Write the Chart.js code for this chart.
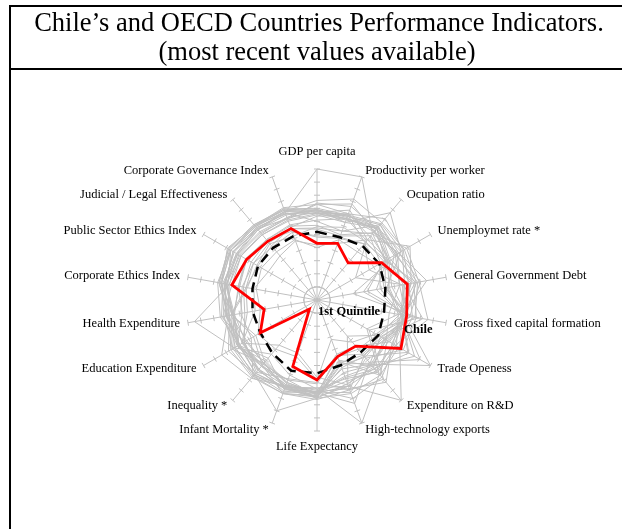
<!DOCTYPE html>
<html><head><meta charset="utf-8">
<script src="https://cdn.jsdelivr.net/npm/chart.js@4.4.1/dist/chart.umd.min.js"></script>
<style>
html,body{margin:0;padding:0;background:#fff;width:622px;height:529px;overflow:hidden;}
#vline{position:absolute;left:9px;top:5px;width:2px;height:600px;background:#000;}
#hline1{position:absolute;left:9px;top:5px;width:700px;height:2px;background:#000;}
#hline2{position:absolute;left:9px;top:68px;width:700px;height:2px;background:#000;}
#c{position:absolute;left:0;top:0;}
</style></head>
<body>
<div id="vline"></div><div id="hline1"></div><div id="hline2"></div>
<canvas id="c" width="622" height="529"></canvas>
<script>
const titleLines = ["Chile’s and OECD Countries Performance Indicators.", "(most recent values available)"];
const indicators = ["GDP per capita","Productivity per worker","Ocupation ratio","Unemploymet rate *","General Government Debt","Gross fixed capital formation","Trade Openess","Expenditure on R&D","High-technology exports","Life Expectancy","Infant Mortality *","Inequality *","Education Expenditure","Health Expenditure","Corporate Ethics Index","Public Sector Ethics Index","Judicial / Legal Effectiveness","Corporate Governance Index"];

const chile    = [4.33, 4.6, 3.7, 5.7, 7.0, 6.95, 7.4, 4.6, 4.6, 6.1, 5.4, 0.9, 5.0, 4.1, 6.6, 6.2, 5.85, 5.8];
const quintile = [5.2, 5.1, 5.4, 5.5, 5.3, 5.2, 5.4, 5.2, 5.3, 5.6, 5.75, 5.3, 5.0, 5.0, 5.0, 5.2, 5.2, 5.2];

const australia   = [6.6, 6.5, 7.2, 6.9, 7.8, 7.6, 5.6, 6.3, 5.2, 7.4, 6.9, 6.5, 6.6, 6.5, 7.1, 7.4, 7.2, 7.0];
const austria     = [6.9, 6.7, 6.8, 7.1, 6.4, 6.9, 6.8, 6.9, 6.3, 7.1, 7.2, 7.3, 6.8, 7.0, 7.2, 7.0, 7.0, 6.9];
const belgium     = [6.7, 7.3, 6.0, 6.2, 4.6, 6.6, 8.6, 6.6, 6.2, 7.0, 7.0, 7.5, 7.2, 6.9, 6.8, 6.7, 6.6, 6.7];
const canada      = [6.8, 6.6, 7.1, 6.3, 5.8, 7.0, 6.3, 6.5, 5.9, 7.3, 6.5, 6.4, 7.0, 6.8, 7.2, 7.3, 7.1, 7.2];
const czech       = [5.4, 5.2, 6.4, 6.1, 7.5, 7.7, 7.6, 5.8, 7.0, 6.7, 7.1, 7.6, 5.8, 5.9, 5.8, 5.6, 5.7, 5.8];
const denmark     = [6.9, 6.8, 7.5, 7.0, 7.6, 6.3, 7.0, 7.2, 6.4, 6.8, 7.0, 7.8, 8.4, 6.9, 7.6, 7.8, 7.5, 7.3];
const finland     = [6.7, 6.6, 7.1, 6.0, 7.7, 6.9, 6.6, 8.2, 7.2, 7.0, 7.5, 7.4, 7.3, 6.5, 7.5, 7.7, 7.4, 7.3];
const france      = [6.6, 7.0, 6.3, 5.6, 5.2, 7.0, 5.9, 6.7, 6.8, 7.5, 7.0, 6.9, 7.0, 7.3, 6.6, 6.7, 6.5, 6.5];
const germany     = [6.8, 6.9, 6.9, 6.2, 5.6, 6.5, 6.7, 7.1, 6.6, 7.1, 7.2, 7.0, 6.4, 7.4, 7.3, 7.1, 7.2, 7.0];
const greece      = [5.6, 5.9, 5.8, 5.9, 3.9, 7.3, 5.3, 4.9, 4.6, 7.2, 6.8, 6.2, 5.4, 6.6, 5.4, 5.3, 5.6, 5.2];
const hungary     = [4.8, 5.0, 5.6, 5.5, 4.9, 6.6, 8.0, 5.6, 7.3, 6.3, 6.4, 7.2, 6.4, 5.6, 5.7, 5.8, 5.9, 5.6];
const iceland     = [6.9, 6.3, 8.7, 7.4, 5.4, 6.9, 6.2, 7.5, 5.0, 7.5, 9.0, 7.4, 7.8, 6.8, 6.9, 7.6, 7.1, 6.6];
const ireland     = [7.3, 7.8, 6.8, 6.3, 6.7, 6.5, 9.1, 6.2, 8.4, 7.1, 7.0, 6.6, 6.9, 6.4, 7.0, 7.0, 6.8, 6.7];
const italy       = [6.4, 6.9, 5.7, 6.1, 3.6, 6.8, 5.5, 5.6, 5.5, 7.4, 7.1, 6.3, 6.2, 6.7, 5.5, 5.2, 5.4, 5.9];
const japan       = [6.5, 6.3, 7.2, 7.4, 2.8, 7.9, 4.6, 7.9, 7.3, 7.6, 7.6, 6.5, 5.6, 6.6, 7.0, 6.8, 6.5, 6.4];
const korea       = [5.7, 5.3, 6.7, 7.9, 7.9, 8.6, 6.9, 7.7, 8.0, 6.9, 6.9, 6.6, 7.0, 5.8, 6.1, 6.2, 6.0, 6.0];
const luxembourg  = [10, 10, 6.6, 7.2, 8.5, 6.7, 10, 6.4, 5.6, 7.2, 7.4, 6.9, 6.5, 7.1, 7.1, 7.4, 7.0, 7.1];
const mexico      = [4.2, 4.6, 6.0, 8.2, 7.3, 6.4, 5.4, 3.6, 6.9, 5.9, 4.3, 4.5, 6.6, 4.8, 4.9, 4.3, 4.4, 4.8];
const netherlands = [7.0, 6.9, 7.6, 7.5, 6.8, 6.6, 8.1, 6.8, 7.0, 7.1, 7.1, 7.3, 6.9, 7.0, 7.4, 7.6, 7.3, 7.4];
const newZealand  = [6.0, 5.6, 7.5, 7.2, 8.0, 7.2, 5.7, 5.4, 4.5, 7.2, 6.7, 6.3, 7.5, 6.6, 7.4, 7.9, 7.4, 7.1];
const norway      = [7.6, 8.2, 7.7, 7.7, 7.7, 6.8, 6.1, 6.6, 4.9, 7.3, 7.6, 7.6, 7.4, 7.2, 7.4, 7.6, 7.3, 7.2];
const poland      = [4.9, 5.1, 5.6, 4.6, 6.6, 7.0, 6.4, 4.6, 4.4, 6.4, 6.5, 6.6, 6.6, 5.4, 5.5, 5.6, 5.3, 5.5];
const portugal    = [5.5, 5.6, 6.6, 6.0, 5.3, 7.2, 6.0, 5.5, 5.1, 7.0, 7.3, 5.8, 6.9, 6.5, 6.0, 6.2, 5.8, 5.8];
const spain       = [6.1, 6.6, 5.9, 3.4, 6.7, 8.2, 5.8, 5.7, 5.3, 7.4, 7.2, 6.3, 6.3, 6.4, 6.1, 6.3, 6.0, 6.1];
const sweden      = [6.8, 6.8, 7.3, 6.4, 7.3, 6.6, 7.3, 10, 7.0, 7.4, 7.6, 7.7, 7.6, 6.8, 7.6, 7.8, 7.5, 7.4];
const switzerland = [7.3, 7.0, 8.1, 7.6, 7.1, 7.4, 7.2, 7.5, 7.6, 7.5, 7.2, 7.0, 6.8, 7.5, 7.7, 7.6, 7.4, 7.5];
const turkey      = [4.0, 4.9, 4.8, 5.4, 7.2, 6.7, 5.2, 4.2, 3.2, 6.1, 4.6, 4.9, 5.2, 4.4, 4.7, 4.9, 4.8, 4.9];
const uk          = [6.6, 6.6, 7.3, 6.9, 6.4, 5.6, 6.1, 6.4, 7.5, 7.1, 6.7, 6.1, 7.0, 6.5, 7.0, 7.1, 7.0, 7.2];
const usa         = [7.4, 7.6, 7.1, 6.8, 5.5, 6.3, 4.4, 7.4, 10, 6.8, 6.1, 5.4, 7.3, 9.5, 6.8, 6.9, 6.7, 6.6];

const oecd = {australia, austria, belgium, canada, czech, denmark, finland, france, germany, greece, hungary, iceland, ireland, italy, japan, korea, luxembourg, mexico, netherlands, newZealand, norway, poland, portugal, spain, sweden, switzerland, turkey, uk, usa};

const GREY = '#c0c0c0';
const FONT = '"Liberation Serif", "Times New Roman", serif';

const datasets = [
  {label:'Chile', data: chile, borderColor:'#ff0000', borderWidth:2.8, pointRadius:0, fill:false, order:0},
  {label:'1st Quintile', data: quintile, borderColor:'#000000', borderWidth:2.5, borderDash:[10,6], pointRadius:0, fill:false, order:1}
];
for (const [name, vals] of Object.entries(oecd)) {
  datasets.push({label:name, data: vals, borderColor: GREY, borderWidth:1, pointRadius:0, fill:false, order:2});
}

const overlay = {
  id: 'overlay',
  beforeDatasetsDraw(chart) {
    const s = chart.scales.r, ctx = chart.ctx;
    ctx.save();
    ctx.strokeStyle = GREY; ctx.lineWidth = 1;
    for (let i = 0; i < indicators.length; i++) {
      const ang = s.getIndexAngle(i) - Math.PI / 2;
      const px = -Math.sin(ang), py = Math.cos(ang);
      for (let v = 1; v <= 10; v++) {
        const p = s.getPointPosition(i, s.getDistanceFromCenterForValue(v));
        ctx.beginPath();
        ctx.moveTo(p.x - 3 * px, p.y - 3 * py);
        ctx.lineTo(p.x + 3 * px, p.y + 3 * py);
        ctx.stroke();
      }
    }
    ctx.restore();
  },
  afterDraw(chart) {
    const s = chart.scales.r, ctx = chart.ctx;
    const R = s.drawingArea;
    ctx.save();
    ctx.fillStyle = '#000';
    ctx.textBaseline = 'middle';
    ctx.textAlign = 'center';
    ctx.font = '26.5px ' + FONT;
    ctx.fillText(titleLines[0], 319, 24);
    ctx.fillText(titleLines[1], 317, 53);
    ctx.font = '12.5px ' + FONT;
    for (let i = 0; i < indicators.length; i++) {
      const deg = i * 360 / indicators.length;
      let p, align;
      if (deg === 0) { p = s.getPointPosition(i, R + 17); align = 'center'; }
      else if (deg === 180) { p = s.getPointPosition(i, R + 16); align = 'center'; }
      else {
        p = s.getPointPosition(i, R + 7);
        align = deg < 180 ? 'left' : 'right';
        p = {x: p.x + (deg < 180 ? 1 : -1), y: p.y};
      }
      ctx.textAlign = align;
      ctx.fillText(indicators[i], p.x, p.y);
    }
    ctx.font = 'bold 12.5px ' + FONT;
    ctx.textAlign = 'left';
    ctx.fillText('1st Quintile', s.xCenter + 1, s.yCenter + 12);
    ctx.fillText('Chile', s.xCenter + 87, s.yCenter + 30);
    ctx.restore();
  }
};

new Chart(document.getElementById('c'), {
  type: 'radar',
  data: { labels: indicators, datasets },
  options: {
    responsive: false,
    devicePixelRatio: 1,
    animation: false,
    layout: { padding: { left: 186, right: 174, top: 169, bottom: 98 } },
    plugins: { legend: { display: false }, tooltip: { enabled: false }, title: { display: false } },
    elements: { line: { tension: 0 } },
    scales: {
      r: {
        min: 0, max: 10,
        ticks: { display: false, stepSize: 1 },
        pointLabels: { display: false },
        angleLines: { display: true, color: GREY, lineWidth: 1 },
        grid: { circular: true, lineWidth: 1, color: (c) => (c.tick && c.tick.value === 1) ? GREY : 'rgba(0,0,0,0)' }
      }
    }
  },
  plugins: [overlay]
});
</script>
</body></html>
